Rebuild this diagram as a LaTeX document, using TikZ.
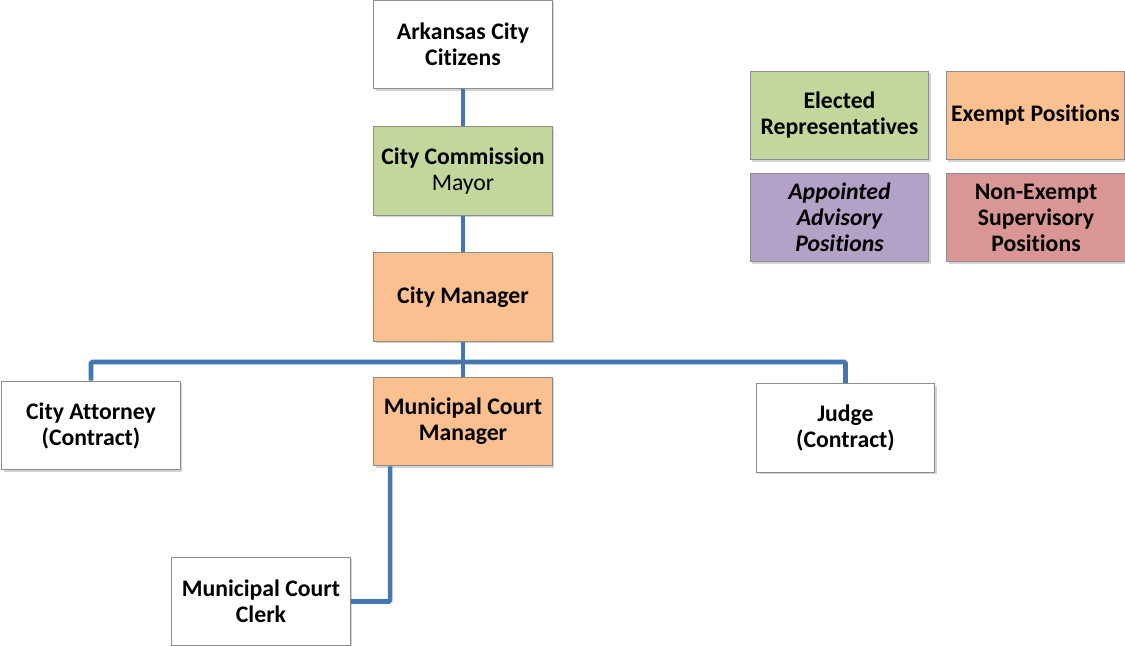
\documentclass[tikz,border=0pt]{standalone}
\usepackage{fontspec}
\setmainfont{Carlito}[Ligatures={NoCommon}]
\usetikzlibrary{shadows}
\definecolor{elected}{HTML}{C3D69B}
\definecolor{exempt}{HTML}{FAC090}
\definecolor{advisory}{HTML}{B3A2C7}
\definecolor{nonexempt}{HTML}{D99694}
\definecolor{linkblue}{HTML}{4676B2}
\tikzset{
  post/.style={draw=black!45, line width=0.8pt, fill=white, align=center,
    minimum width=134pt, minimum height=66.5pt, inner sep=1pt,
    font=\fontsize{17.8}{19.5}\selectfont\bfseries,
    drop shadow={shadow xshift=1.5pt, shadow yshift=-1.5pt, opacity=0.35}},
  link/.style={draw=linkblue, line width=3.5pt, rounded corners=1pt}
}
\begin{document}
\begin{tikzpicture}[x=0.75pt,y=-0.75pt]
\useasboundingbox (0,0) rectangle (1125,646);
% chart
\node[post] (cit) at (463,44.5) {Arkansas City\\Citizens};
\node[post, fill=elected] (com) at (463,171) {City Commission\\\mdseries Mayor};
\node[post, fill=exempt] (mgr) at (463,297) {City Manager};
\node[post] (att) at (91,425.5) {City Attorney\\(Contract)};
\node[post, fill=exempt] (mcm) at (463,421.5) {Municipal Court\\Manager};
\node[post] (judge) at (845.5,428) {Judge\\(Contract)};
\node[post] (clerk) at (261,601.5) {Municipal Court\\Clerk};
% legend
\node[post, fill=elected] (leg1) at (839.5,115.5) {Elected\\Representatives};
\node[post, fill=exempt] (leg2) at (1035.5,115.5) {Exempt Positions};
\node[post, fill=advisory, font=\fontsize{17.8}{19.5}\selectfont\bfseries\itshape] (leg3) at (839.5,217.5) {Appointed\\Advisory\\Positions};
\node[post, fill=nonexempt] (leg4) at (1036,217.5) {Non-Exempt\\Supervisory\\Positions};
% connectors
\coordinate (bus) at (463,362);
\begin{scope}[on background layer/.try]
\draw[link] (cit.south) -- (com.north);
\draw[link] (com.south) -- (mgr.north);
\draw[link] (mgr.south) -- (mcm.north);
\draw[link] (att.north) |- (bus) -| (judge.north);
\draw[link] ([xshift=12.75pt]mcm.south west) |- (clerk.east);
\end{scope}
\end{tikzpicture}
\end{document}
